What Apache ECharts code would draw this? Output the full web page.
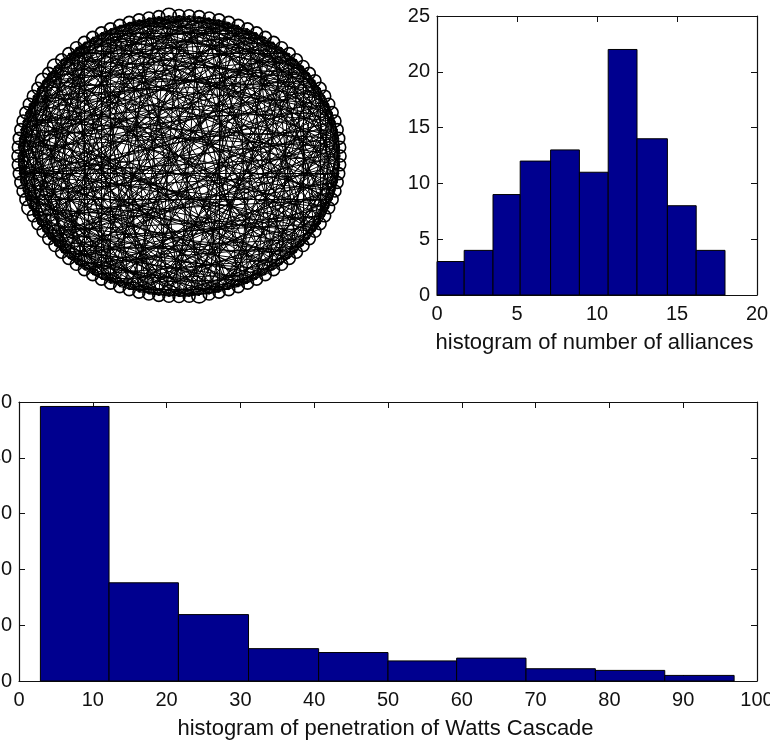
<!DOCTYPE html>
<html>
<head>
<meta charset="utf-8">
<style>html,body{margin:0;padding:0;background:#fff}#c{width:770px;height:740px}</style>
<script src="https://cdn.jsdelivr.net/npm/echarts@6/dist/echarts.min.js"></script>
</head>
<body>
<div id="c"></div>
<script>
// Histogram of number of alliances
const allianceEdges = [0, 1.7, 3.5, 5.2, 7.1, 8.9, 10.7, 12.5, 14.4, 16.2, 18.0];
const allianceCounts = [3, 4, 9, 12, 13, 11, 22, 14, 8, 4];
const allianceTitle = 'histogram of number of alliances';

// Histogram of penetration of Watts Cascade
const cascadeEdges = [2.9, 12.2, 21.6, 31.1, 40.6, 50, 59.3, 68.7, 78.1, 87.5, 96.9];
const cascadeCounts = [49.2, 17.6, 11.9, 5.8, 5.1, 3.6, 4.1, 2.2, 1.9, 1.0];
const cascadeTitle = 'histogram of penetration of Watts Cascade';

// Network: 100 firms on a ring; each row lists the higher-numbered partners of a node
const nodeCount = 100;
const enlargedNodes = [39, 41, 56, 26, 77];
const partners = [
 [3,17,29,44,58,71,86,95],[4,9,33,47,62,78,91],[5,21,38,52,67,83,97],[8,15,26,49,63,74,90],[11,23,36,55,69,82,98],
 [7,19,31,46,60,88,93],[10,28,41,53,76,85,99],[12,24,39,57,70,81,94],[14,22,35,50,65,79,92],[13,30,43,61,72,87],
 [16,27,42,59,68,84,96],[18,34,48,64,75,89],[20,32,45,56,73,80,97],[25,37,51,66,77,91],[21,40,54,62,83,95],
 [29,44,58,69,78,88],[23,36,47,60,74,93],[26,33,52,71,86,99],[31,49,63,76,85],[28,41,55,67,82,94],
 [24,38,46,59,72,90],[35,50,65,79,96],[30,43,57,70,81,92],[34,48,61,75,87,98],[42,53,68,84],
 [37,56,64,73,89],[39,51,62,77,95],[32,45,60,83,91],[40,54,69,80,97],[33,47,58,74,86],
 [36,52,66,78,93],[41,55,71,88,99],[44,63,76,85],[38,49,67,82,94],[46,59,72,90],
 [43,57,65,79,96],[48,61,70,81,92],[50,68,75,87],[42,53,84,98],[45,64,73,89],
 [47,56,77,95],[51,62,83,91],[54,69,80],[52,60,74,97],[58,66,78,93],
 [49,71,86,99],[55,63,76,88],[59,67,82,85],[57,72,90,94],[61,65,79],
 [53,70,81,96],[68,75,92],[64,87,98],[56,73,84],[62,77,89],
 [60,83,95],[69,80,91],[66,74,97],[71,78],[63,86,93],
 [67,76,99],[72,82,88],[65,85,90],[70,79,94],[75,81],
 [68,96,92],[73,87],[77,84,98],[83,89],[74,95],
 [80,91],[78,97],[76,93],[86,99],[82,88],
 [79,85],[81,90],[94,96],[84,92],[87],
 [89,98],[83,95],[91,97],[93],[86,99],
 [88,90],[94],[92,96],[98],[95],
 [97],[93,99],[94],[96],[98],
 [97],[99],[98],[],[]
];
// Further alliances, mostly long chords through the hubs of the ring
const morePartners = [
 [37,52,66],[25,41,55,70],[12,30,46,60],[19,34,56,79],[27,43,61,77],
 [14,37,52,68,84],[22,48,63,92],[18,33,46,75],[27,40,54,73],[21,36,52,80],
 [25,38,49,71],[29,44,57,83],[23,41,62,76],[33,47,60,86],[30,55,73],
 [37,49,64,92],[28,42,66,81],[39,56,77],[35,50,68,90],[36,58,74],
 [44,61,78,97],[31,53,70],[40,52,85],[46,66,90],[38,55,79],
 [45,60,82],[33,48,71],[52,67,88],[43,59,75],[49,64,94],
 [42,56,72],[47,63,80],[51,68,96],[54,70],[41,57,86],
 [50,62,77],[45,66,84],[55,73,91],[60,78],[52,69,95],
 [58,74,88],[49,65],[57,72,92],[61,79],[53,68,85],
 [63,81],[59,75,96],[66,89],[64,83],[70,91],
 [62,78],[58,87],[72,94],[69,90],[76,98],
 [67,86],[74,82],[79,95],[65,88],[73,97],
 [84,92],[77,93],[83],[80,96],[89]
];
const networkLinks = [...partners, ...morePartners].flatMap((row, k) =>
  row.map(j => ({source: k < partners.length ? k : k - partners.length, target: j})));
const networkNodes = Array.from({length: nodeCount}, (_, i) => {
  const t = 2 * Math.PI * i / nodeCount;
  return {
    value: [Math.cos(t), Math.sin(t)],
    symbolSize: enlargedNodes.includes(i) ? 15 : 12
  };
});

const FONT = '"Liberation Sans", Arial, sans-serif';
const INK = '#111111';
const FILL = '#00008f';
const FS = 20;
const NAME_FS = 22;

function histSeries(edges, counts, idx) {
  return {
    type: 'custom',
    xAxisIndex: idx, yAxisIndex: idx,
    silent: true, z: 3,
    encode: {x: [0, 1], y: 2},
    data: counts.map((c, i) => [edges[i], edges[i + 1], c]),
    renderItem: function (params, api) {
      const a = api.coord([api.value(0), 0]);
      const b = api.coord([api.value(1), api.value(2)]);
      return {
        type: 'rect',
        shape: {x: a[0], y: b[1], width: b[0] - a[0], height: a[1] - b[1]},
        style: {fill: FILL, stroke: '#000', lineWidth: 1}
      };
    }
  };
}
const line = {show: true, onZero: false, lineStyle: {color: INK, width: 1.2}};
const tick = {show: true, inside: true, length: 6, lineStyle: {color: INK, width: 1}};
const label = {show: true, color: INK, fontFamily: FONT, fontSize: FS, margin: 7, hideOverlap: false, showMinLabel: true, showMaxLabel: true};

function xAxes(grid, min, max, interval, name, gap) {
  return [{
    type: 'value', gridIndex: grid, min, max, interval, position: 'bottom',
    axisLine: line, axisTick: tick, splitLine: {show: false},
    axisLabel: Object.assign({}, label, {margin: 9}),
    name, nameLocation: 'middle', nameGap: gap,
    nameTextStyle: {color: INK, fontFamily: FONT, fontSize: NAME_FS, padding: [0, 5, 0, 0]}
  }, {
    type: 'value', gridIndex: grid, min, max, interval, position: 'top',
    axisLine: line, axisTick: tick, splitLine: {show: false}, axisLabel: {show: false}
  }];
}
function yAxes(grid, min, max, interval) {
  return [{
    type: 'value', gridIndex: grid, min, max, interval, position: 'left',
    axisLine: line, axisTick: tick, splitLine: {show: false}, axisLabel: label
  }, {
    type: 'value', gridIndex: grid, min, max, interval, position: 'right',
    axisLine: line, axisTick: tick, splitLine: {show: false}, axisLabel: {show: false}
  }];
}
const hidden = {type: 'value', gridIndex: 2, min: -1, max: 1, show: false};

const chart = echarts.init(document.getElementById('c'), null, {renderer: 'canvas', width: 770, height: 740});
chart.setOption({
  animation: false,
  backgroundColor: '#fff',
  grid: [
    {left: 437, top: 16, width: 320, height: 279, containLabel: false, outerBoundsMode: 'none'},
    {left: 19, top: 402, width: 738, height: 279, containLabel: false, outerBoundsMode: 'none'},
    {left: 18, top: 15.5, width: 322, height: 281, containLabel: false, outerBoundsMode: 'none'}
  ],
  xAxis: [
    ...xAxes(0, 0, 20, 5, allianceTitle, 37),
    ...xAxes(1, 0, 100, 10, cascadeTitle, 37),
    Object.assign({}, hidden)
  ],
  yAxis: [
    ...yAxes(0, 0, 25, 5),
    ...yAxes(1, 0, 50, 10),
    Object.assign({}, hidden)
  ],
  series: [
    histSeries(allianceEdges, allianceCounts, 0),
    histSeries(cascadeEdges, cascadeCounts, 2),
    {
      type: 'graph',
      coordinateSystem: 'cartesian2d',
      xAxisIndex: 4, yAxisIndex: 4,
      layout: 'none',
      silent: true,
      data: networkNodes,
      links: networkLinks,
      symbol: 'circle',
      itemStyle: {color: 'rgba(255,255,255,0)', borderColor: '#000', borderWidth: 1.6},
      lineStyle: {color: '#000', width: 1, opacity: 1, curveness: 0},
      label: {show: false},
      edgeSymbol: ['none', 'none']
    }
  ]
});
</script>
</body>
</html>
